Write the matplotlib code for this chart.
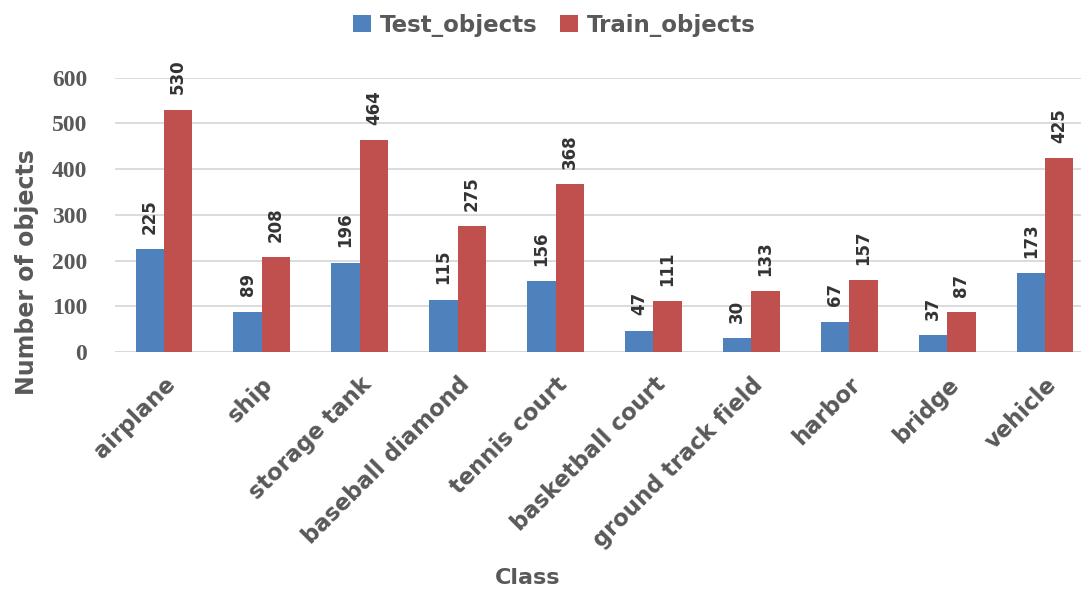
import numpy as np
from matplotlib import pyplot as plt

classes = ['airplane', 'ship', 'storage tank', 'baseball diamond', 'tennis court',
           'basketball court', 'ground track field', 'harbor', 'bridge', 'vehicle']
test_objects = [225, 89, 196, 115, 156, 47, 30, 67, 37, 173]
train_objects = [530, 208, 464, 275, 368, 111, 133, 157, 87, 425]
y_ticks = [0, 100, 200, 300, 400, 500, 600]

text_color = '#595959'

fig = plt.figure(figsize=(10.81, 5.89), dpi=100)
ax = fig.add_axes([0.1064, 0.402, 0.9056, 0.466])

x_axis = np.arange(len(classes))
w = 0.29
bar1 = ax.bar(x_axis - w / 2, test_objects, w, color='#4F81BD', label='Test_objects', zorder=3)
bar2 = ax.bar(x_axis + w / 2, train_objects, w, color='#C0504D', label='Train_objects', zorder=3)

for rect in list(bar1) + list(bar2):
    height = rect.get_height()
    ax.annotate(f'{height:.0f}', (rect.get_x() + rect.get_width() / 2.0, height),
                xytext=(0, 11), textcoords='offset points', ha='center', va='bottom',
                rotation=90, fontsize=12, fontweight='bold', color='#333333')

ax.set_xlim(-0.5, len(classes) - 0.5)
ax.set_ylim(0, 600)
ax.set_yticks(y_ticks)
ax.set_yticklabels([str(t) for t in y_ticks], family='Liberation Serif',
                   fontweight='bold', fontsize=17, color=text_color)
ax.set_xticks(x_axis)
ax.set_xticklabels(classes, rotation=45, ha='right', rotation_mode='anchor',
                   fontsize=16.3, fontweight='bold', color=text_color)
ax.tick_params(length=0, axis='y', pad=20)
ax.tick_params(length=0, axis='x', pad=15)

ax.yaxis.grid(True, color='#D9D9D9', linewidth=1.3, zorder=0)
for side in ['top', 'right', 'left', 'bottom']:
    ax.spines[side].set_visible(False)
ax.axhline(0, color='#D9D9D9', linewidth=1.3, zorder=1)

fig.text(0.025, 0.538, 'Number of objects', rotation=90, ha='center', va='center',
         fontsize=17, fontweight='bold', color=text_color)
fig.text(0.488, 0.008, 'Class', ha='center', fontsize=16, fontweight='bold', color=text_color)

fig.legend(handles=[bar1, bar2], loc='upper center', bbox_to_anchor=(0.513, 1.012), ncol=2,
           frameon=False, handlelength=0.75, handleheight=0.75, handletextpad=0.4,
           columnspacing=1.0, prop={'size': 16.5, 'weight': 'bold'}, labelcolor=text_color)

plt.savefig('out.png')
